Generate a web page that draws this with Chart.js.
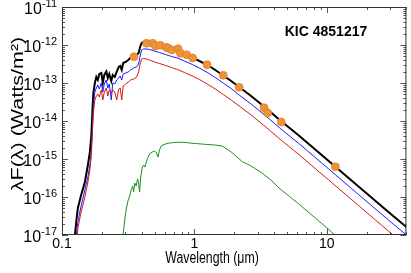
<!DOCTYPE html>
<html>
<head>
<meta charset="utf-8">
<script src="https://cdn.jsdelivr.net/npm/chart.js@4.4.0/dist/chart.umd.min.js"></script>
<style>
  html, body { margin: 0; padding: 0; background: #fff; }
</style>
</head>
<body>
<canvas id="sed" width="411" height="273"></canvas>
<script>
// SED of KIC 4851217 : two-star model + cool component + photometry
const starName = 'KIC 4851217';

// wavelength grid (micron) shared by the stellar models
const modelWave = [0.1252, 0.1285, 0.1319, 0.1389, 0.1489, 0.1569, 0.1624, 0.1667, 0.1696, 0.1725,
  0.1771, 0.1817, 0.1865, 0.1914, 0.1982, 0.2034, 0.2087, 0.2161, 0.2218, 0.2276,
  0.2357, 0.2418, 0.2503, 0.2591, 0.2683, 0.2753, 0.2826, 0.2900, 0.3029, 0.3162,
  0.3303, 0.3479, 0.3664, 0.3793, 0.3893, 0.3996, 0.4137, 0.4356, 0.4588, 0.5003,
  0.5453, 0.6053, 0.6717, 0.7452, 0.8409, 0.9660, 1.0905, 1.2524, 1.4386, 1.652,
  1.897, 2.179, 2.683, 3.360, 4.510, 6.159, 10.35, 17.40, 29.26, 40.0];

// total model (black)
const totalFlux = [1.0e-17, 2.48e-17, 5.14e-17, 1.06e-16, 2.48e-16, 6.95e-16, 1.53e-15, 4.28e-15, 1.73e-14, 5.46e-14,
  1.0e-13, 1.44e-13, 1.20e-13, 1.73e-13, 1.83e-13, 1.0e-13, 1.63e-13, 2.01e-13, 1.35e-13, 1.73e-13,
  1.13e-13, 1.63e-13, 1.44e-13, 1.95e-13, 2.64e-13, 2.80e-13, 2.20e-13, 3.36e-13, 3.57e-13, 4.03e-13,
  4.69e-13, 5.14e-13, 5.46e-13, 6.16e-13, 8.86e-13, 1.13e-12, 1.20e-12, 1.20e-12, 1.16e-12, 1.06e-12,
  9.70e-13, 8.59e-13, 7.62e-13, 6.95e-13, 5.80e-13, 4.69e-13, 3.79e-13, 2.98e-13, 2.20e-13, 1.57e-13,
  1.13e-13, 7.85e-14, 4.55e-14, 2.41e-14, 1.0e-14, 4.15e-15, 8.86e-16, 1.89e-16, 4.03e-17, 1.63e-17];

// primary star (blue)
const primaryFlux = [5.45e-18, 1.13e-17, 2.20e-17, 5.46e-17, 1.53e-16, 3.36e-16, 6.95e-16, 1.73e-15, 6.55e-15, 2.34e-14,
  5.80e-14, 7.38e-14, 8.86e-14, 6.95e-14, 1.0e-13, 5.80e-14, 9.41e-14, 1.20e-13, 7.38e-14, 9.41e-14,
  3.57e-14, 1.0e-13, 9.41e-14, 1.20e-13, 1.35e-13, 1.53e-13, 1.20e-13, 1.73e-13, 1.83e-13, 1.95e-13,
  2.20e-13, 2.48e-13, 2.64e-13, 3.16e-13, 5.14e-13, 7.38e-13, 7.85e-13, 7.85e-13, 7.62e-13, 6.95e-13,
  6.35e-13, 5.62e-13, 4.98e-13, 4.55e-13, 3.79e-13, 3.07e-13, 2.48e-13, 1.89e-13, 1.40e-13, 1.0e-13,
  7.17e-14, 4.83e-14, 2.80e-14, 1.48e-14, 6.16e-15, 2.56e-15, 5.46e-16, 1.16e-16, 2.48e-17, 1.0e-17];

// secondary star (red)
const secondaryFlux = [4.03e-18, 5.45e-18, 1.53e-17, 3.79e-17, 1.0e-16, 2.48e-16, 5.14e-16, 1.27e-15, 4.83e-15, 1.63e-14,
  3.57e-14, 4.55e-14, 5.14e-14, 4.28e-14, 6.55e-14, 3.57e-14, 5.80e-14, 7.38e-14, 4.55e-14, 6.55e-14,
  5.46e-14, 6.55e-14, 5.80e-14, 3.57e-14, 6.95e-14, 7.38e-14, 3.57e-14, 8.34e-14, 9.41e-14, 1.06e-13,
  1.20e-13, 1.27e-13, 1.44e-13, 1.95e-13, 3.16e-13, 4.28e-13, 4.41e-13, 4.28e-13, 4.03e-13, 3.57e-13,
  3.26e-13, 2.89e-13, 2.56e-13, 2.27e-13, 1.89e-13, 1.53e-13, 1.24e-13, 9.41e-14, 6.95e-14, 4.98e-14,
  3.57e-14, 2.48e-14, 1.44e-14, 7.62e-15, 3.16e-15, 1.31e-15, 2.80e-16, 5.97e-17, 1.27e-17, 5.14e-18];

// faint third component (green)
const thirdWave = [0.2890, 0.2951, 0.3002, 0.3081, 0.3162, 0.3247, 0.3332, 0.3419, 0.3479, 0.3539,
  0.3633, 0.3727, 0.3793, 0.3860, 0.3927, 0.4031, 0.4137, 0.4245, 0.4356, 0.4508,
  0.4667, 0.4831, 0.5003, 0.5179, 0.5315, 0.5453, 0.5648, 0.6053, 0.6486, 0.7073,
  0.7711, 0.8409, 0.9171, 1.017, 1.189, 1.414, 1.624, 1.897, 2.296, 2.683,
  3.246, 3.793, 4.356, 5.179, 6.159, 7.322, 8.706, 10.35, 11.49];
const thirdFlux = [1.0e-17, 1.83e-17, 3.16e-17, 5.46e-17, 8.34e-17, 1.06e-16, 1.53e-16, 1.95e-16, 1.35e-16, 2.34e-16,
  1.95e-16, 2.98e-16, 2.20e-16, 1.35e-16, 3.16e-16, 5.80e-16, 6.95e-16, 6.16e-16, 8.86e-16, 1.20e-15,
  1.44e-15, 1.53e-15, 1.63e-15, 1.44e-15, 1.13e-15, 1.73e-15, 2.27e-15, 2.48e-15, 2.64e-15, 2.72e-15,
  2.75e-15, 2.75e-15, 2.64e-15, 2.56e-15, 2.44e-15, 2.34e-15, 2.20e-15, 1.53e-15, 8.59e-16, 6.55e-16,
  4.28e-16, 2.80e-16, 1.73e-16, 1.06e-16, 6.55e-17, 3.91e-17, 2.34e-17, 1.40e-17, 1.0e-17];

// observed photometry (orange)
const photWave = [0.3497, 0.4356, 0.4858, 0.5089, 0.5521, 0.6126, 0.6375, 0.6751, 0.7543, 0.7847,
  0.8752, 0.9710, 1.246, 1.652, 2.179, 3.360, 3.582, 4.533, 11.63];
const photFlux = [4.92e-13, 1.11e-12, 1.11e-12, 9.41e-13, 9.83e-13, 8.70e-13, 8.19e-13, 7.38e-13, 7.99e-13, 6.05e-13,
  5.56e-13, 4.55e-13, 3.03e-13, 1.60e-13, 7.71e-14, 2.24e-14, 1.63e-14, 9.41e-15, 6.27e-16];

// axes
const xRange = [0.1, 40];
const yRange = [1e-17, 1e-11];
const xTickLabels = ['0.1', '1', '10'];
const yExponents = [-17, -16, -15, -14, -13, -12, -11];

const pairs = (w, f) => w.map((v, i) => ({ x: v, y: f[i] }));
const FONT = '"Liberation Sans", Arial, Helvetica, sans-serif';
const SQUEEZE = 0.77; // the original figure text is narrow horizontally

const logTicks = (lo, hi) => {
  const out = [];
  for (let e = Math.floor(Math.log10(lo)); e <= Math.ceil(Math.log10(hi)); e++) {
    for (let m = 1; m <= 9; m++) {
      const v = m * Math.pow(10, e);
      if (v >= lo * 0.999 && v <= hi * 1.001) out.push({ v, major: m === 1 });
    }
  }
  return out;
};

const frame = {
  id: 'frame',
  afterDatasetsDraw(chart) {
    const { ctx, chartArea: a, scales: { x, y } } = chart;
    ctx.save();
    ctx.strokeStyle = '#555';
    ctx.lineWidth = 1;
    ctx.beginPath();
    logTicks(xRange[0], xRange[1]).forEach(t => {
      const px = Math.round(x.getPixelForValue(t.v)) + 0.5;
      const len = t.major ? 6 : 3;
      ctx.moveTo(px, a.bottom); ctx.lineTo(px, a.bottom - len);
      ctx.moveTo(px, a.top); ctx.lineTo(px, a.top + len);
    });
    logTicks(yRange[0], yRange[1]).forEach(t => {
      const py = Math.round(y.getPixelForValue(t.v)) + 0.5;
      const len = t.major ? 6 : 3;
      ctx.moveTo(a.left, py); ctx.lineTo(a.left + len, py);
      ctx.moveTo(a.right, py); ctx.lineTo(a.right - len, py);
    });
    ctx.stroke();
    ctx.strokeStyle = '#333';
    ctx.strokeRect(a.left + 0.5, a.top + 0.5, a.right - a.left - 1, a.bottom - a.top - 1);

    // tick labels
    ctx.fillStyle = '#000';
    ctx.textBaseline = 'middle';
    yExponents.forEach(e => {
      const py = y.getPixelForValue(Math.pow(10, e));
      ctx.font = '11px ' + FONT;
      const sup = '-' + Math.abs(e);
      const w = ctx.measureText(sup).width;
      ctx.textAlign = 'left';
      ctx.fillText(sup, 57 - w, py - 3);
      ctx.font = '16px ' + FONT;
      ctx.textAlign = 'right';
      ctx.fillText('10', 57 - w, py + 3);
    });
    ctx.font = '14px ' + FONT;
    ctx.textAlign = 'center';
    xTickLabels.forEach(s => {
      ctx.fillText(s, x.getPixelForValue(parseFloat(s)), 244);
    });

    // titles
    ctx.save();
    ctx.translate(212, 259);
    ctx.scale(SQUEEZE, 1);
    ctx.font = '16px ' + FONT;
    ctx.fillText('Wavelength (\u03bcm)', 0, 0);
    ctx.restore();

    ctx.font = 'bold 14px ' + FONT;
    ctx.fillText(starName, 326, 32);

    ctx.translate(18, 114);
    ctx.rotate(-Math.PI / 2);
    ctx.scale(1, 0.8);
    ctx.font = '21.5px ' + FONT;
    ctx.fillText('\u03bbF(\u03bb) (Watts/m\u00b2)', 0, 0);
    ctx.restore();
  }
};

new Chart(document.getElementById('sed'), {
  type: 'line',
  data: {
    datasets: [
      { label: 'photometry', data: pairs(photWave, photFlux), showLine: false,
        pointRadius: 4, pointBackgroundColor: '#f39232', pointBorderColor: '#c87a3a', pointBorderWidth: 0.6 },
      { label: 'third', data: pairs(thirdWave, thirdFlux), borderColor: '#1f8f1f', borderWidth: 1, pointRadius: 0 },
      { label: 'secondary', data: pairs(modelWave, secondaryFlux), borderColor: '#d81818', borderWidth: 1, pointRadius: 0 },
      { label: 'primary', data: pairs(modelWave, primaryFlux), borderColor: '#1a1aff', borderWidth: 1, pointRadius: 0 },
      { label: 'total', data: pairs(modelWave, totalFlux), borderColor: '#000', borderWidth: 2, pointRadius: 0 }
    ]
  },
  options: {
    responsive: false,
    animation: false,
    devicePixelRatio: 1,
    layout: { padding: { left: 62, right: 3, top: 7, bottom: 38 } },
    plugins: { legend: { display: false }, tooltip: { enabled: false } },
    scales: {
      x: { type: 'logarithmic', min: xRange[0], max: xRange[1], display: false },
      y: { type: 'logarithmic', min: yRange[0], max: yRange[1], display: false }
    }
  },
  plugins: [frame]
});
</script>
</body>
</html>
